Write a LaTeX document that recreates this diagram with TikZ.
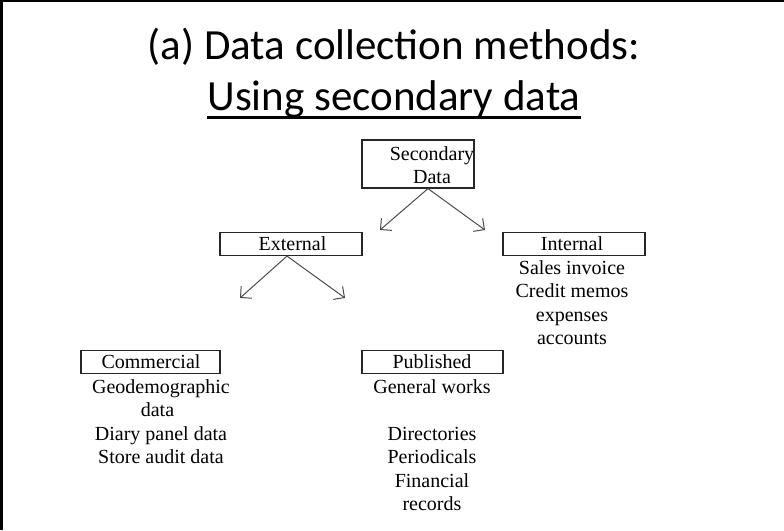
\documentclass[tikz,border=0pt]{standalone}
\usepackage{fontspec}
\setmainfont{Liberation Serif}
\newfontfamily\titlefont{Carlito}
\usetikzlibrary{arrows.meta}
\begin{document}
\begin{tikzpicture}[x=1pt,y=-1pt,
  boxline/.style={draw=black!85, line width=1.2pt, inner sep=0pt, minimum height=23pt},
  txt/.style={inner sep=0pt, align=center, font=\fontsize{20}{23.5}\selectfont},
  conn/.style={draw=black!70, line width=1pt, -{Straight Barb[length=8pt,width=16pt,line width=1pt]}},
  ttl/.style={inner sep=0pt, anchor=base, font=\titlefont\fontsize{43}{51}\selectfont}
]
\useasboundingbox (0,0) rectangle (784,530);
\fill[black] (0,0) rectangle (3,530);
\fill[black] (0,0) rectangle (784,2);
% title
\node[ttl] (t1) at (394,59) {(a) Data collection methods:};
\node[ttl] (t2) at (394,110) {Using secondary data};
\draw[line width=3pt] ([yshift=-7pt]t2.base west) -- ([yshift=-7pt]t2.base east);
% boxes
\node[boxline, minimum width=112pt, minimum height=48pt] (secbox) at (418,164) {};
\node[txt] (sec) at (432,165) {Secondary\\Data};
\node[boxline, minimum width=142pt] (ext) at (291,244) {};
\node[txt] (extt) at (292.5,244) {External};
\node[boxline, minimum width=142pt] (int) at (574,244) {};
\node[txt] (intt) at (572,244) {Internal};
\node[boxline, minimum width=139pt] (com) at (150.5,362) {};
\node[txt] (comt) at (151,362) {Commercial};
\node[boxline, minimum width=141pt] (pub) at (432.5,362) {};
\node[txt] (pubt) at (432,362) {Published};
% lists
\node[txt, anchor=north] (intl) at (572,260) {Sales invoice\\Credit memos\\expenses\\accounts};
\node[txt, anchor=north] (coml) at (161,379) {Geodemographic\\data\rule{7pt}{0pt}\\Diary panel data\\Store audit data};
\node[txt, anchor=north] (publ) at (432,379) {General works\\[23.5pt]Directories\\Periodicals\\Financial\\records};
% connectors
\coordinate (a1) at (380,230);
\coordinate (a2) at (485,230);
\coordinate (b1) at (240,298);
\coordinate (b2) at (345,298);
\draw[conn] ([xshift=10pt]secbox.south) -- (a1);
\draw[conn] ([xshift=10pt]secbox.south) -- (a2);
\draw[conn] ([xshift=-4pt]ext.south) -- (b1);
\draw[conn] ([xshift=-4pt]ext.south) -- (b2);
\end{tikzpicture}
\end{document}
